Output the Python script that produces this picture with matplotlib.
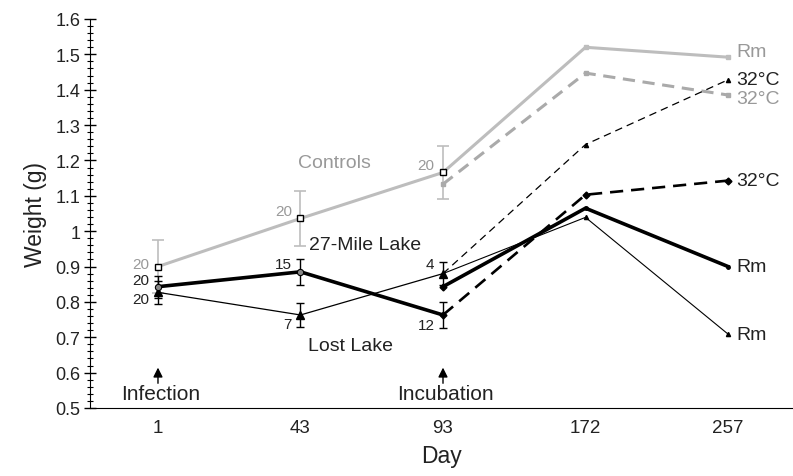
import matplotlib
matplotlib.use('Agg')
import matplotlib.pyplot as plt
from matplotlib.ticker import MultipleLocator

plt.rcParams['font.family'] = ['Liberation Sans', 'DejaVu Sans']

days = ['1', '43', '93', '172', '257']

# before incubation (days 1, 43, 93)
ctrl_pre = [0.90, 1.036, 1.166]
ctrl_err = [0.076, 0.077, 0.076]
mile_pre = [0.843, 0.885, 0.763]
mile_err = [0.031, 0.037, 0.037]
lost_pre = [0.827, 0.763, 0.880]
lost_err = [0.033, 0.033, 0.032]

# after incubation split (days 93, 172, 257)
ctrl_rm = [1.166, 1.520, 1.492]
ctrl_32 = [1.133, 1.447, 1.385]
mile_rm = [0.843, 1.065, 0.900]
mile_32 = [0.763, 1.103, 1.143]
lost_rm = [0.880, 1.039, 0.709]
lost_32 = [0.880, 1.245, 1.428]

ctrl_n = ['20', '20', '20']
mile_n = ['20', '15', '12']
lost_n = ['20', '7', '4']

grey = '#bdbdbd'
grey2 = '#aaaaaa'
gtext = '#999999'
ink = '#222222'

pre_x = [0, 1, 2]
post_x = [2, 3, 4]

fig = plt.figure(figsize=(7.93, 4.77), dpi=100)
ax = fig.add_axes([0.1135, 0.1426, 0.8865, 0.8155])

# controls
ax.errorbar(pre_x, ctrl_pre, yerr=ctrl_err, color=grey, lw=2.2, capsize=4,
            elinewidth=1.2, capthick=1.2, zorder=2)
ax.plot(pre_x, ctrl_pre, ls='none', marker='s', ms=4, mfc='white', mec='black',
        mew=1, zorder=6)
ax.plot(post_x, ctrl_rm, color=grey, lw=2.2, marker='s', ms=3, markevery=[1, 2], zorder=2)
ax.plot(post_x, ctrl_32, color=grey2, lw=2.2, ls=(0, (4, 2.5)), marker='s', ms=3, zorder=2)

# 27-Mile Lake
ax.errorbar(pre_x, mile_pre, yerr=mile_err, color='black', lw=2.6, capsize=3,
            elinewidth=1, capthick=1, zorder=4)
ax.plot(pre_x[:2], mile_pre[:2], ls='none', marker='o', ms=4.5, mfc='#888888',
        mec='black', mew=0.8, zorder=6)
ax.plot(post_x, mile_rm, color='black', lw=2.6, marker='D', ms=3.5, markevery=[0],
        zorder=4)
ax.plot(post_x, mile_32, color='black', lw=1.9, ls=(0, (5, 3)), marker='D', ms=3.5,
        zorder=4)
ax.plot(post_x[1:], mile_rm[1:], ls='none', marker='o', ms=2.5, color='black', zorder=5)
ax.plot(post_x[1:], mile_32[1:], ls='none', marker='o', ms=2.5, color='black', zorder=5)

# Lost Lake
ax.errorbar(pre_x, lost_pre, yerr=lost_err, color='black', lw=0.9, capsize=3,
            elinewidth=1, capthick=1, marker='^', ms=6, zorder=5)
ax.plot(post_x, lost_rm, color='black', lw=0.8, zorder=5)
ax.plot(post_x, lost_32, color='black', lw=0.9, ls=(0, (6, 4)), zorder=5)
ax.plot(post_x[1:], lost_rm[1:], ls='none', marker='^', ms=3, color='black', zorder=5)
ax.plot(post_x[1:], lost_32[1:], ls='none', marker='^', ms=3, color='black', zorder=5)

# n labels
fs = 11
ctrl_ny = [0.908, 1.058, 1.187]
mile_ny = [0.862, 0.907, 0.735]
lost_ny = [0.808, 0.737, 0.907]
for i in range(3):
    ax.text(i - 0.06, ctrl_ny[i], ctrl_n[i], color=gtext, fontsize=fs, ha='right', va='center')
    ax.text(i - 0.06, mile_ny[i], mile_n[i], color=ink, fontsize=fs, ha='right', va='center')
    ax.text(i - 0.06, lost_ny[i], lost_n[i], color=ink, fontsize=fs, ha='right', va='center')

# group labels
ax.text(1.24, 1.195, 'Controls', color=gtext, fontsize=14, ha='center', va='center')
ax.text(1.06, 0.962, '27-Mile Lake', color=ink, fontsize=14, ha='left', va='center')
ax.text(1.05, 0.676, 'Lost Lake', color=ink, fontsize=14, ha='left', va='center')

# end labels
end_y = [1.508, 1.430, 1.374, 1.143, 0.900, 0.709]
end_txt = ['Rm', '32°C', '32°C', '32°C', 'Rm', 'Rm']
end_col = [gtext, ink, gtext, ink, ink, ink]
for y, s, c in zip(end_y, end_txt, end_col):
    ax.text(4.06, y, s, color=c, fontsize=14, ha='left', va='center', clip_on=False)

# event arrows
for xi, label in [(0, 'Infection'), (2, 'Incubation')]:
    ax.annotate('', xy=(xi, 0.622), xytext=(xi, 0.562),
                arrowprops=dict(arrowstyle='-|>', color='black', lw=1, mutation_scale=14))
    ax.text(xi + 0.02, 0.54, label, fontsize=15, ha='center', va='center', color=ink)

ax.set_xlim(-0.477, 4.456)
ax.set_ylim(0.5, 1.6)
ax.set_xticks(range(len(days)))
ax.set_xticklabels(days, fontsize=13.5, color=ink)
ax.tick_params(axis='x', length=0, pad=8)
ax.yaxis.set_minor_locator(MultipleLocator(0.02))
ax.set_yticks([round(0.5 + 0.1 * k, 1) for k in range(12)])
ax.set_yticklabels(['0.5', '0.6', '0.7', '0.8', '0.9', '1', '1.1', '1.2', '1.3',
                    '1.4', '1.5', '1.6'], fontsize=13, color=ink)
ax.tick_params(axis='y', which='major', direction='inout', length=8, width=1, pad=3)
ax.tick_params(axis='y', which='minor', direction='inout', length=5, width=0.8)
ax.spines['top'].set_visible(False)
ax.spines['right'].set_visible(False)
ax.set_xlabel('Day', fontsize=16.5, color=ink, labelpad=6)
ax.set_ylabel('Weight (g)', fontsize=16.5, color=ink, labelpad=6)

plt.savefig('out.png', dpi=100)
